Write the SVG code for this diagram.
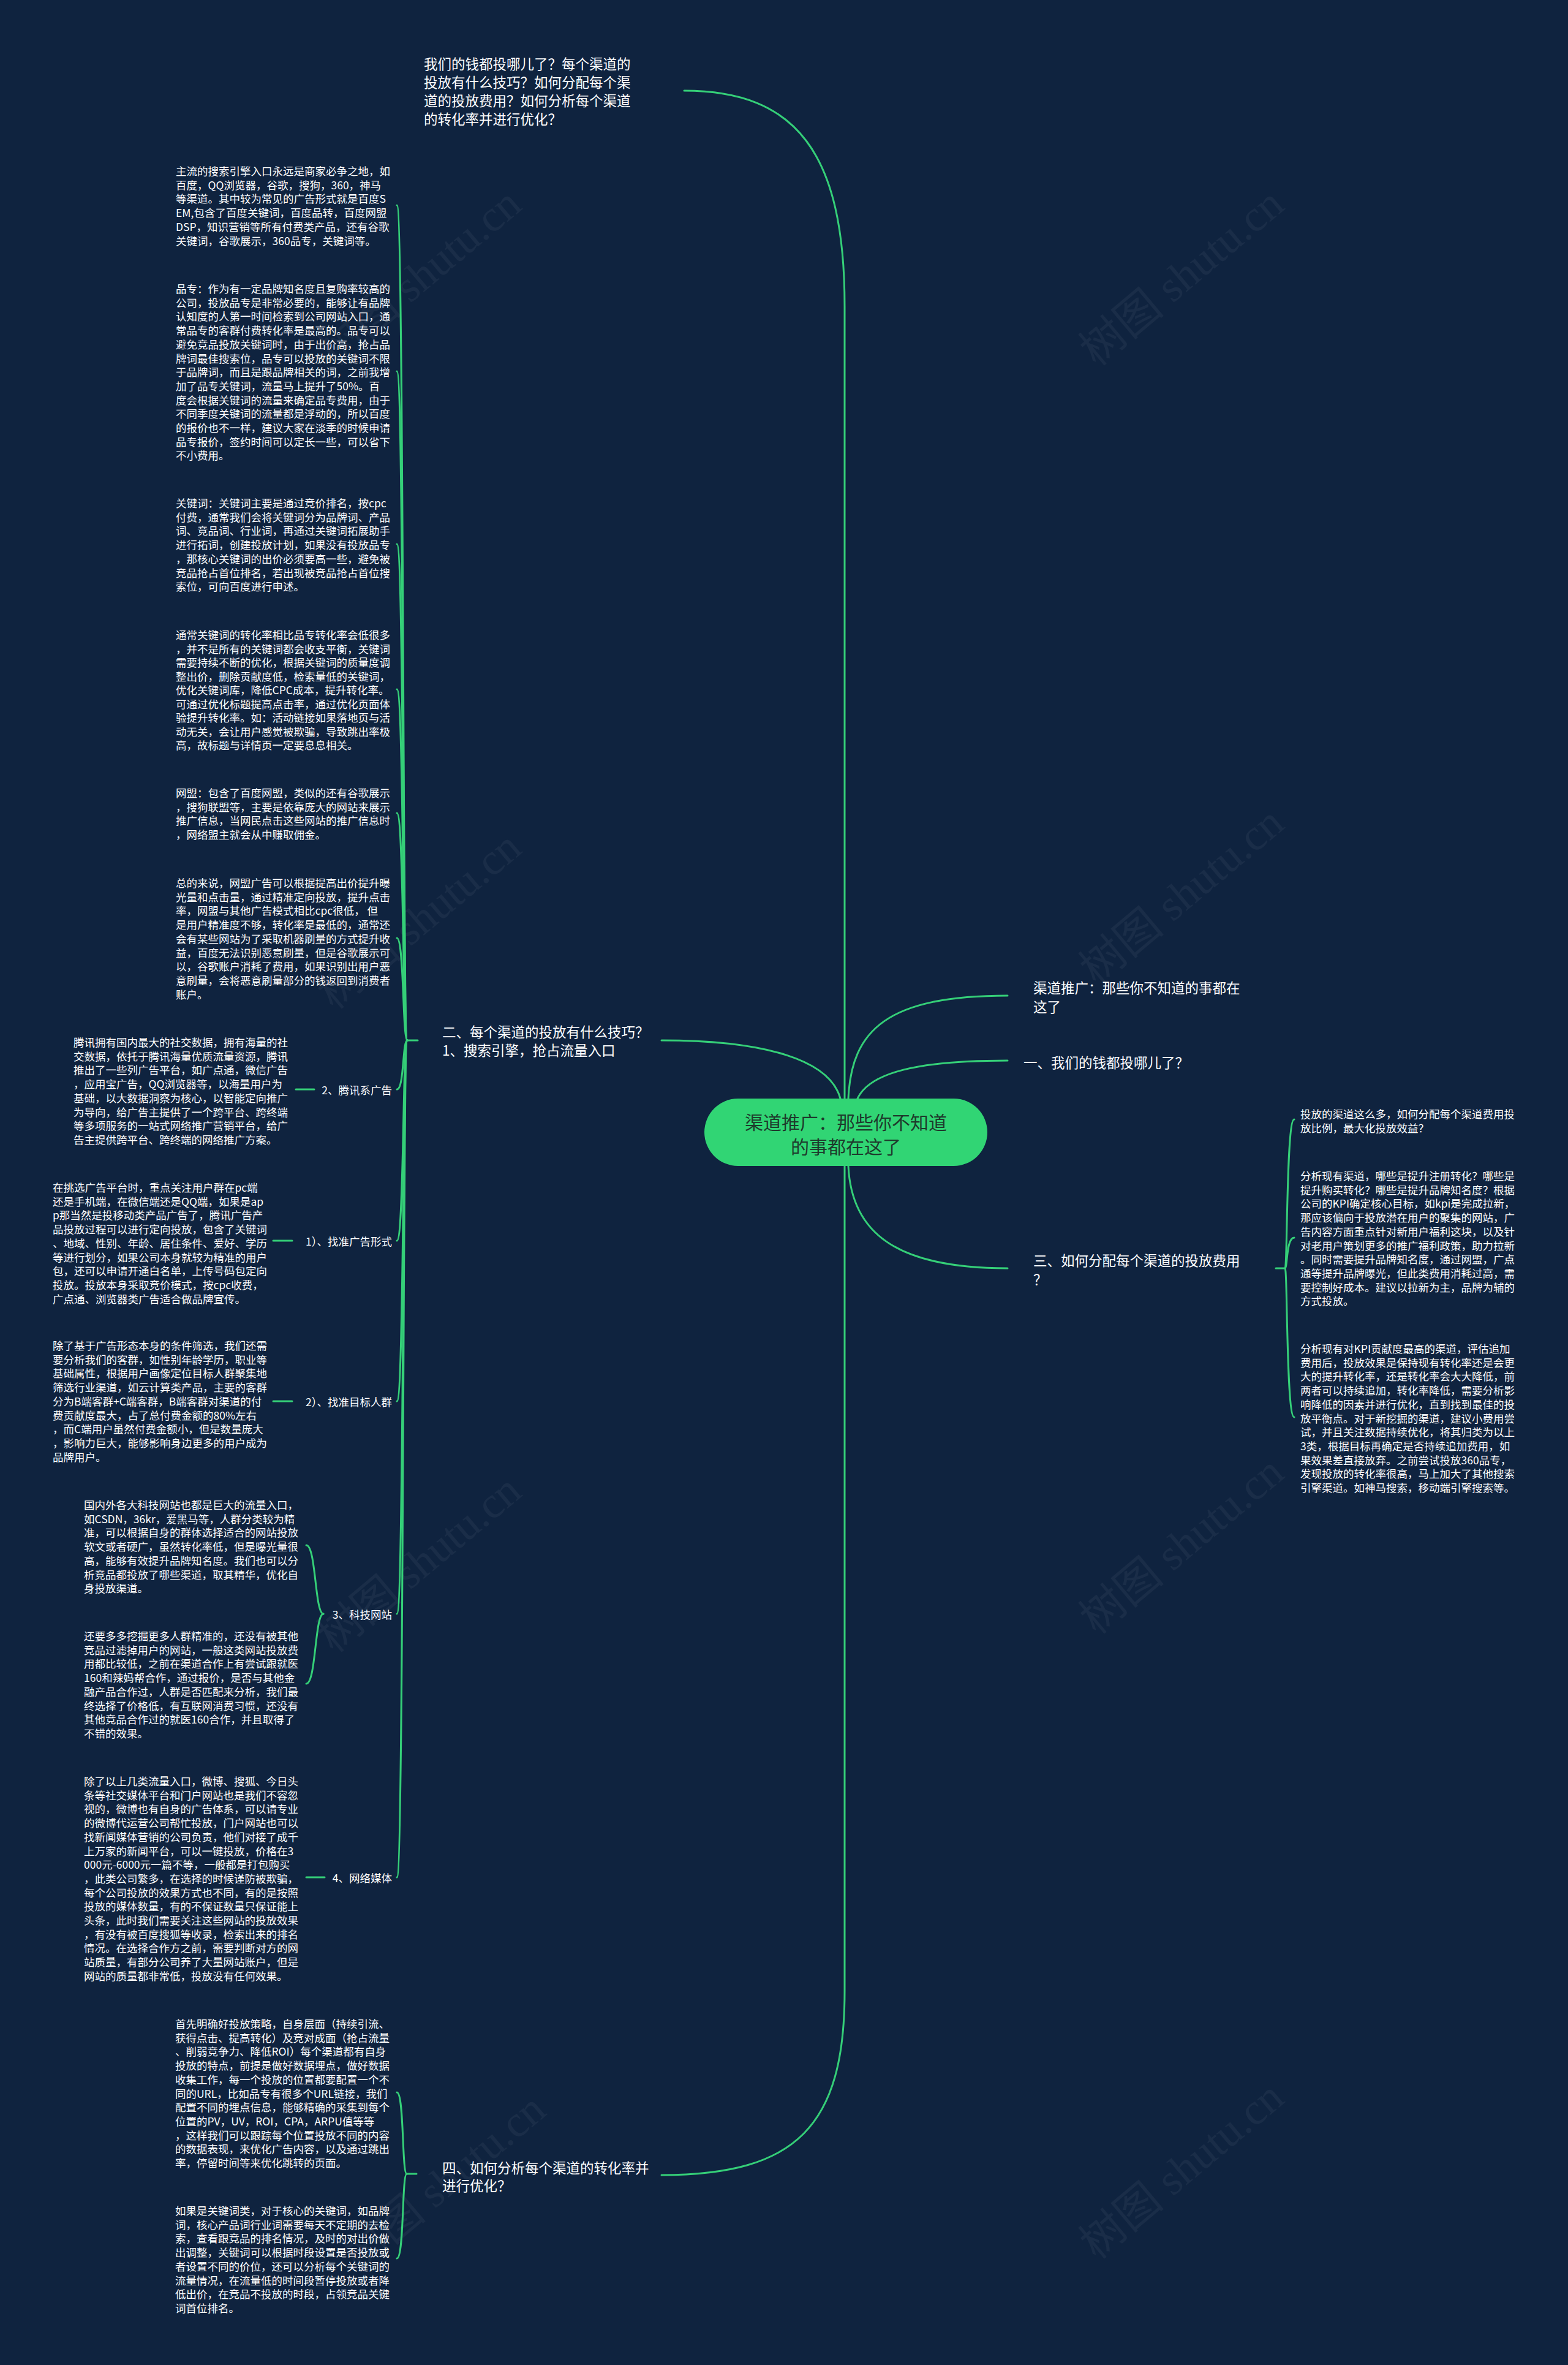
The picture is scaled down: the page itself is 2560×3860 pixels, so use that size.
<svg xmlns="http://www.w3.org/2000/svg" width="2560" height="3860" viewBox="0 0 2560 3860">
<style>
.ln{fill:none;stroke:#35cf78;stroke-width:3;stroke-linecap:round}
.t1{font-family:"Noto Sans CJK SC","Noto Sans",sans-serif;font-size:22.5px;fill:#ffffff;dominant-baseline:central}
.t2{font-family:"Noto Sans CJK SC","Noto Sans",sans-serif;font-size:17.5px;fill:#ffffff;dominant-baseline:central}
.tc{font-family:"Noto Sans CJK SC","Noto Sans",sans-serif;font-size:30px;fill:#1e3a2c;text-anchor:middle;dominant-baseline:central}
.end{text-anchor:end}
.wm{font-family:"Liberation Serif","Noto Sans CJK SC",serif;font-size:72px;fill:#ffffff;opacity:0.045}
</style>
<rect width="2560" height="3860" fill="#0f233f"/>
<g id="watermarks">
<text class="wm" transform="translate(700,470) rotate(-40)" text-anchor="middle">树图 shutu.cn</text>
<text class="wm" transform="translate(1945,470) rotate(-40)" text-anchor="middle">树图 shutu.cn</text>
<text class="wm" transform="translate(700,1520) rotate(-40)" text-anchor="middle">树图 shutu.cn</text>
<text class="wm" transform="translate(1945,1480) rotate(-40)" text-anchor="middle">树图 shutu.cn</text>
<text class="wm" transform="translate(700,2570) rotate(-40)" text-anchor="middle">树图 shutu.cn</text>
<text class="wm" transform="translate(1945,2540) rotate(-40)" text-anchor="middle">树图 shutu.cn</text>
<text class="wm" transform="translate(740,3580) rotate(-40)" text-anchor="middle">树图 shutu.cn</text>
<text class="wm" transform="translate(1945,3560) rotate(-40)" text-anchor="middle">树图 shutu.cn</text>
</g>
<g id="connectors">
<path class="ln" d="M1117 148 C1300 148 1379 250 1379 500 L1379 1793"/>
<path class="ln" d="M1385 1793 C1390 1680 1450 1625 1645 1625"/>
<path class="ln" d="M1400 1793 C1420 1750 1500 1731 1645 1731"/>
<path class="ln" d="M1372 1793 C1355 1730 1250 1698 1080 1698"/>
<path class="ln" d="M1385 1903 C1390 2010 1460 2070 1645 2070"/>
<path class="ln" d="M1379 1903 L1379 3250 C1379 3470 1300 3550 1080 3550"/>
<path class="ln" d="M2083 2070 L2098 2070"/>
<path class="ln" d="M2098 2070 C2102 2070 2100 1827 2113 1827"/>
<path class="ln" d="M2098 2070 C2102 2070 2100 2020 2113 2020"/>
<path class="ln" d="M2098 2070 C2102 2070 2100 2313 2113 2313"/>
<path class="ln" d="M665 1698 L682 1698"/>
<path class="ln" d="M665 1698 C657 1698 660 335 648 335"/>
<path class="ln" d="M665 1698 C657 1698 660 606 648 606"/>
<path class="ln" d="M665 1698 C657 1698 660 888 648 888"/>
<path class="ln" d="M665 1698 C657 1698 660 1125 648 1125"/>
<path class="ln" d="M665 1698 C657 1698 660 1327 648 1327"/>
<path class="ln" d="M665 1698 C657 1698 660 1531 648 1531"/>
<path class="ln" d="M665 1698 C657 1698 660 1778 648 1778"/>
<path class="ln" d="M665 1698 C657 1698 660 2025 648 2025"/>
<path class="ln" d="M665 1698 C657 1698 660 2287 648 2287"/>
<path class="ln" d="M665 1698 C657 1698 660 2634 648 2634"/>
<path class="ln" d="M665 1698 C657 1698 660 3064 648 3064"/>
<path class="ln" d="M483 1778 L513 1778"/>
<path class="ln" d="M446 2025 L477 2025"/>
<path class="ln" d="M446 2287 L477 2287"/>
<path class="ln" d="M500 3064 L530 3064"/>
<path class="ln" d="M528 2634 C514 2634 516 2522 500 2522"/>
<path class="ln" d="M528 2634 C514 2634 516 2748 500 2748"/>
<path class="ln" d="M664 3548 L680 3548"/>
<path class="ln" d="M664 3548 C656 3548 660 3415 648 3415"/>
<path class="ln" d="M664 3548 C656 3548 660 3686 648 3686"/>
</g>
<g id="center">
<rect x="1150" y="1793" width="462" height="110" rx="55" ry="55" fill="#31d574"/>
<text class="tc" x="1381" y="1830">渠道推广：那些你不知道</text>
<text class="tc" x="1381" y="1870">的事都在这了</text>
</g>
<g id="n-top">
<text class="t1" x="692" y="103"><tspan x="692" dy="0">我们的钱都投哪儿了？每个渠道的</tspan><tspan x="692" dy="30">投放有什么技巧？如何分配每个渠</tspan><tspan x="692" dy="30">道的投放费用？如何分析每个渠道</tspan><tspan x="692" dy="30">的转化率并进行优化？</tspan></text>
</g>
<g id="n-title">
<text class="t1" x="1687" y="1611"><tspan x="1687" dy="0">渠道推广：那些你不知道的事都在</tspan><tspan x="1687" dy="31">这了</tspan></text>
</g>
<g id="n-1">
<text class="t1" x="1671" y="1733">一、我们的钱都投哪儿了？</text>
</g>
<g id="n-3">
<text class="t1" x="1687" y="2056"><tspan x="1687" dy="0">三、如何分配每个渠道的投放费用</tspan><tspan x="1687" dy="31">？</tspan></text>
</g>
<g id="n-3-1">
<text class="t2" x="2123" y="1817"><tspan x="2123" dy="0">投放的渠道这么多，如何分配每个渠道费用投</tspan><tspan x="2123" dy="22.7">放比例，最大化投放效益？</tspan></text>
</g>
<g id="n-3-2">
<text class="t2" x="2123" y="1918"><tspan x="2123" dy="0">分析现有渠道，哪些是提升注册转化？哪些是</tspan><tspan x="2123" dy="22.7">提升购买转化？哪些是提升品牌知名度？根据</tspan><tspan x="2123" dy="22.7">公司的KPI确定核心目标，如kpi是完成拉新，</tspan><tspan x="2123" dy="22.7">那应该偏向于投放潜在用户的聚集的网站，广</tspan><tspan x="2123" dy="22.7">告内容方面重点针对新用户福利这块，以及针</tspan><tspan x="2123" dy="22.7">对老用户策划更多的推广福利政策，助力拉新</tspan><tspan x="2123" dy="22.7">。同时需要提升品牌知名度，通过网盟，广点</tspan><tspan x="2123" dy="22.7">通等提升品牌曝光，但此类费用消耗过高，需</tspan><tspan x="2123" dy="22.7">要控制好成本。建议以拉新为主，品牌为辅的</tspan><tspan x="2123" dy="22.7">方式投放。</tspan></text>
</g>
<g id="n-3-3">
<text class="t2" x="2123" y="2200"><tspan x="2123" dy="0">分析现有对KPI贡献度最高的渠道，评估追加</tspan><tspan x="2123" dy="22.7">费用后，投放效果是保持现有转化率还是会更</tspan><tspan x="2123" dy="22.7">大的提升转化率，还是转化率会大大降低，前</tspan><tspan x="2123" dy="22.7">两者可以持续追加，转化率降低，需要分析影</tspan><tspan x="2123" dy="22.7">响降低的因素并进行优化，直到找到最佳的投</tspan><tspan x="2123" dy="22.7">放平衡点。对于新挖掘的渠道，建议小费用尝</tspan><tspan x="2123" dy="22.7">试，并且关注数据持续优化，将其归类为以上</tspan><tspan x="2123" dy="22.7">3类，根据目标再确定是否持续追加费用，如</tspan><tspan x="2123" dy="22.7">果效果差直接放弃。之前尝试投放360品专，</tspan><tspan x="2123" dy="22.7">发现投放的转化率很高，马上加大了其他搜索</tspan><tspan x="2123" dy="22.7">引擎渠道。如神马搜索，移动端引擎搜索等。</tspan></text>
</g>
<g id="n-2">
<text class="t1" x="722" y="1683"><tspan x="722" dy="0">二、每个渠道的投放有什么技巧？</tspan><tspan x="722" dy="30">1、搜索引擎，抢占流量入口</tspan></text>
</g>
<g id="n-2-a">
<text class="t2" x="287" y="278"><tspan x="287" dy="0">主流的搜索引擎入口永远是商家必争之地，如</tspan><tspan x="287" dy="22.7">百度，QQ浏览器，谷歌，搜狗，360，神马</tspan><tspan x="287" dy="22.7">等渠道。其中较为常见的广告形式就是百度S</tspan><tspan x="287" dy="22.7">EM,包含了百度关键词，百度品转，百度网盟</tspan><tspan x="287" dy="22.7">DSP，知识营销等所有付费类产品，还有谷歌</tspan><tspan x="287" dy="22.7">关键词，谷歌展示，360品专，关键词等。</tspan></text>
</g>
<g id="n-2-b">
<text class="t2" x="287" y="470"><tspan x="287" dy="0">品专：作为有一定品牌知名度且复购率较高的</tspan><tspan x="287" dy="22.7">公司，投放品专是非常必要的，能够让有品牌</tspan><tspan x="287" dy="22.7">认知度的人第一时间检索到公司网站入口，通</tspan><tspan x="287" dy="22.7">常品专的客群付费转化率是最高的。品专可以</tspan><tspan x="287" dy="22.7">避免竞品投放关键词时，由于出价高，抢占品</tspan><tspan x="287" dy="22.7">牌词最佳搜索位，品专可以投放的关键词不限</tspan><tspan x="287" dy="22.7">于品牌词，而且是跟品牌相关的词，之前我增</tspan><tspan x="287" dy="22.7">加了品专关键词，流量马上提升了50%。百</tspan><tspan x="287" dy="22.7">度会根据关键词的流量来确定品专费用，由于</tspan><tspan x="287" dy="22.7">不同季度关键词的流量都是浮动的，所以百度</tspan><tspan x="287" dy="22.7">的报价也不一样，建议大家在淡季的时候申请</tspan><tspan x="287" dy="22.7">品专报价，签约时间可以定长一些，可以省下</tspan><tspan x="287" dy="22.7">不小费用。</tspan></text>
</g>
<g id="n-2-c">
<text class="t2" x="287" y="820"><tspan x="287" dy="0">关键词：关键词主要是通过竞价排名，按cpc</tspan><tspan x="287" dy="22.7">付费，通常我们会将关键词分为品牌词、产品</tspan><tspan x="287" dy="22.7">词、竞品词、行业词，再通过关键词拓展助手</tspan><tspan x="287" dy="22.7">进行拓词，创建投放计划，如果没有投放品专</tspan><tspan x="287" dy="22.7">，那核心关键词的出价必须要高一些，避免被</tspan><tspan x="287" dy="22.7">竞品抢占首位排名，若出现被竞品抢占首位搜</tspan><tspan x="287" dy="22.7">索位，可向百度进行申述。</tspan></text>
</g>
<g id="n-2-d">
<text class="t2" x="287" y="1035"><tspan x="287" dy="0">通常关键词的转化率相比品专转化率会低很多</tspan><tspan x="287" dy="22.5">，并不是所有的关键词都会收支平衡，关键词</tspan><tspan x="287" dy="22.5">需要持续不断的优化，根据关键词的质量度调</tspan><tspan x="287" dy="22.5">整出价，删除贡献度低，检索量低的关键词，</tspan><tspan x="287" dy="22.5">优化关键词库，降低CPC成本，提升转化率。</tspan><tspan x="287" dy="22.5">可通过优化标题提高点击率，通过优化页面体</tspan><tspan x="287" dy="22.5">验提升转化率。如：活动链接如果落地页与活</tspan><tspan x="287" dy="22.5">动无关，会让用户感觉被欺骗，导致跳出率极</tspan><tspan x="287" dy="22.5">高，故标题与详情页一定要息息相关。</tspan></text>
</g>
<g id="n-2-e">
<text class="t2" x="287" y="1293"><tspan x="287" dy="0">网盟：包含了百度网盟，类似的还有谷歌展示</tspan><tspan x="287" dy="22.7">，搜狗联盟等，主要是依靠庞大的网站来展示</tspan><tspan x="287" dy="22.7">推广信息，当网民点击这些网站的推广信息时</tspan><tspan x="287" dy="22.7">，网络盟主就会从中赚取佣金。</tspan></text>
</g>
<g id="n-2-f">
<text class="t2" x="287" y="1440"><tspan x="287" dy="0">总的来说，网盟广告可以根据提高出价提升曝</tspan><tspan x="287" dy="22.7">光量和点击量，通过精准定向投放，提升点击</tspan><tspan x="287" dy="22.7">率，网盟与其他广告模式相比cpc很低， 但</tspan><tspan x="287" dy="22.7">是用户精准度不够，转化率是最低的，通常还</tspan><tspan x="287" dy="22.7">会有某些网站为了采取机器刷量的方式提升收</tspan><tspan x="287" dy="22.7">益，百度无法识别恶意刷量，但是谷歌展示可</tspan><tspan x="287" dy="22.7">以，谷歌账户消耗了费用，如果识别出用户恶</tspan><tspan x="287" dy="22.7">意刷量，会将恶意刷量部分的钱返回到消费者</tspan><tspan x="287" dy="22.7">账户。</tspan></text>
</g>
<g id="n-2-tx">
<text class="t2 end" x="640" y="1778">2、腾讯系广告</text>
</g>
<g id="n-2-tx-a">
<text class="t2" x="120" y="1700"><tspan x="120" dy="0">腾讯拥有国内最大的社交数据，拥有海量的社</tspan><tspan x="120" dy="22.7">交数据，依托于腾讯海量优质流量资源，腾讯</tspan><tspan x="120" dy="22.7">推出了一些列广告平台，如广点通，微信广告</tspan><tspan x="120" dy="22.7">，应用宝广告，QQ浏览器等，以海量用户为</tspan><tspan x="120" dy="22.7">基础，以大数据洞察为核心，以智能定向推广</tspan><tspan x="120" dy="22.7">为导向，给广告主提供了一个跨平台、跨终端</tspan><tspan x="120" dy="22.7">等多项服务的一站式网络推广营销平台，给广</tspan><tspan x="120" dy="22.7">告主提供跨平台、跨终端的网络推广方案。</tspan></text>
</g>
<g id="n-2-form">
<text class="t2 end" x="640" y="2025">1）、找准广告形式</text>
</g>
<g id="n-2-form-a">
<text class="t2" x="86" y="1937"><tspan x="86" dy="0">在挑选广告平台时，重点关注用户群在pc端</tspan><tspan x="86" dy="22.7">还是手机端，在微信端还是QQ端，如果是ap</tspan><tspan x="86" dy="22.7">p那当然是投移动类产品广告了，腾讯广告产</tspan><tspan x="86" dy="22.7">品投放过程可以进行定向投放，包含了关键词</tspan><tspan x="86" dy="22.7">、地域、性别、年龄、居住条件、爱好、学历</tspan><tspan x="86" dy="22.7">等进行划分，如果公司本身就较为精准的用户</tspan><tspan x="86" dy="22.7">包，还可以申请开通白名单，上传号码包定向</tspan><tspan x="86" dy="22.7">投放。投放本身采取竞价模式，按cpc收费，</tspan><tspan x="86" dy="22.7">广点通、浏览器类广告适合做品牌宣传。</tspan></text>
</g>
<g id="n-2-target">
<text class="t2 end" x="640" y="2287">2）、找准目标人群</text>
</g>
<g id="n-2-target-a">
<text class="t2" x="86" y="2195"><tspan x="86" dy="0">除了基于广告形态本身的条件筛选，我们还需</tspan><tspan x="86" dy="22.7">要分析我们的客群，如性别年龄学历，职业等</tspan><tspan x="86" dy="22.7">基础属性，根据用户画像定位目标人群聚集地</tspan><tspan x="86" dy="22.7">筛选行业渠道，如云计算类产品，主要的客群</tspan><tspan x="86" dy="22.7">分为B端客群+C端客群，B端客群对渠道的付</tspan><tspan x="86" dy="22.7">费贡献度最大，占了总付费金额的80%左右</tspan><tspan x="86" dy="22.7">，而C端用户虽然付费金额小，但是数量庞大</tspan><tspan x="86" dy="22.7">，影响力巨大，能够影响身边更多的用户成为</tspan><tspan x="86" dy="22.7">品牌用户。</tspan></text>
</g>
<g id="n-2-tech">
<text class="t2 end" x="640" y="2634">3、科技网站</text>
</g>
<g id="n-2-tech-a">
<text class="t2" x="137" y="2455"><tspan x="137" dy="0">国内外各大科技网站也都是巨大的流量入口，</tspan><tspan x="137" dy="22.7">如CSDN，36kr，爱黑马等，人群分类较为精</tspan><tspan x="137" dy="22.7">准，可以根据自身的群体选择适合的网站投放</tspan><tspan x="137" dy="22.7">软文或者硬广，虽然转化率低，但是曝光量很</tspan><tspan x="137" dy="22.7">高，能够有效提升品牌知名度。我们也可以分</tspan><tspan x="137" dy="22.7">析竞品都投放了哪些渠道，取其精华，优化自</tspan><tspan x="137" dy="22.7">身投放渠道。</tspan></text>
</g>
<g id="n-2-tech-b">
<text class="t2" x="137" y="2669"><tspan x="137" dy="0">还要多多挖掘更多人群精准的，还没有被其他</tspan><tspan x="137" dy="22.7">竞品过滤掉用户的网站，一般这类网站投放费</tspan><tspan x="137" dy="22.7">用都比较低，之前在渠道合作上有尝试跟就医</tspan><tspan x="137" dy="22.7">160和辣妈帮合作，通过报价，是否与其他金</tspan><tspan x="137" dy="22.7">融产品合作过，人群是否匹配来分析，我们最</tspan><tspan x="137" dy="22.7">终选择了价格低，有互联网消费习惯，还没有</tspan><tspan x="137" dy="22.7">其他竞品合作过的就医160合作，并且取得了</tspan><tspan x="137" dy="22.7">不错的效果。</tspan></text>
</g>
<g id="n-2-media">
<text class="t2 end" x="640" y="3064">4、网络媒体</text>
</g>
<g id="n-2-media-a">
<text class="t2" x="137" y="2906"><tspan x="137" dy="0">除了以上几类流量入口，微博、搜狐、今日头</tspan><tspan x="137" dy="22.7">条等社交媒体平台和门户网站也是我们不容忽</tspan><tspan x="137" dy="22.7">视的，微博也有自身的广告体系，可以请专业</tspan><tspan x="137" dy="22.7">的微博代运营公司帮忙投放，门户网站也可以</tspan><tspan x="137" dy="22.7">找新闻媒体营销的公司负责，他们对接了成千</tspan><tspan x="137" dy="22.7">上万家的新闻平台，可以一键投放，价格在3</tspan><tspan x="137" dy="22.7">000元-6000元一篇不等，一般都是打包购买</tspan><tspan x="137" dy="22.7">，此类公司繁多，在选择的时候谨防被欺骗，</tspan><tspan x="137" dy="22.7">每个公司投放的效果方式也不同，有的是按照</tspan><tspan x="137" dy="22.7">投放的媒体数量，有的不保证数量只保证能上</tspan><tspan x="137" dy="22.7">头条，此时我们需要关注这些网站的投放效果</tspan><tspan x="137" dy="22.7">，有没有被百度搜狐等收录，检索出来的排名</tspan><tspan x="137" dy="22.7">情况。在选择合作方之前，需要判断对方的网</tspan><tspan x="137" dy="22.7">站质量，有部分公司养了大量网站账户，但是</tspan><tspan x="137" dy="22.7">网站的质量都非常低，投放没有任何效果。</tspan></text>
</g>
<g id="n-4">
<text class="t1" x="722" y="3537"><tspan x="722" dy="0">四、如何分析每个渠道的转化率并</tspan><tspan x="722" dy="29">进行优化？</tspan></text>
</g>
<g id="n-4-a">
<text class="t2" x="286" y="3302"><tspan x="286" dy="0">首先明确好投放策略，自身层面（持续引流、</tspan><tspan x="286" dy="22.7">获得点击、提高转化）及竞对成面（抢占流量</tspan><tspan x="286" dy="22.7">、削弱竞争力、降低ROI）每个渠道都有自身</tspan><tspan x="286" dy="22.7">投放的特点，前提是做好数据埋点，做好数据</tspan><tspan x="286" dy="22.7">收集工作，每一个投放的位置都要配置一个不</tspan><tspan x="286" dy="22.7">同的URL，比如品专有很多个URL链接，我们</tspan><tspan x="286" dy="22.7">配置不同的埋点信息，能够精确的采集到每个</tspan><tspan x="286" dy="22.7">位置的PV，UV，ROI，CPA，ARPU值等等</tspan><tspan x="286" dy="22.7">，这样我们可以跟踪每个位置投放不同的内容</tspan><tspan x="286" dy="22.7">的数据表现，来优化广告内容，以及通过跳出</tspan><tspan x="286" dy="22.7">率，停留时间等来优化跳转的页面。</tspan></text>
</g>
<g id="n-4-b">
<text class="t2" x="286" y="3607"><tspan x="286" dy="0">如果是关键词类，对于核心的关键词，如品牌</tspan><tspan x="286" dy="22.7">词，核心产品词行业词需要每天不定期的去检</tspan><tspan x="286" dy="22.7">索，查看跟竞品的排名情况，及时的对出价做</tspan><tspan x="286" dy="22.7">出调整，关键词可以根据时段设置是否投放或</tspan><tspan x="286" dy="22.7">者设置不同的价位，还可以分析每个关键词的</tspan><tspan x="286" dy="22.7">流量情况，在流量低的时间段暂停投放或者降</tspan><tspan x="286" dy="22.7">低出价，在竞品不投放的时段，占领竞品关键</tspan><tspan x="286" dy="22.7">词首位排名。</tspan></text>
</g>
</svg>
